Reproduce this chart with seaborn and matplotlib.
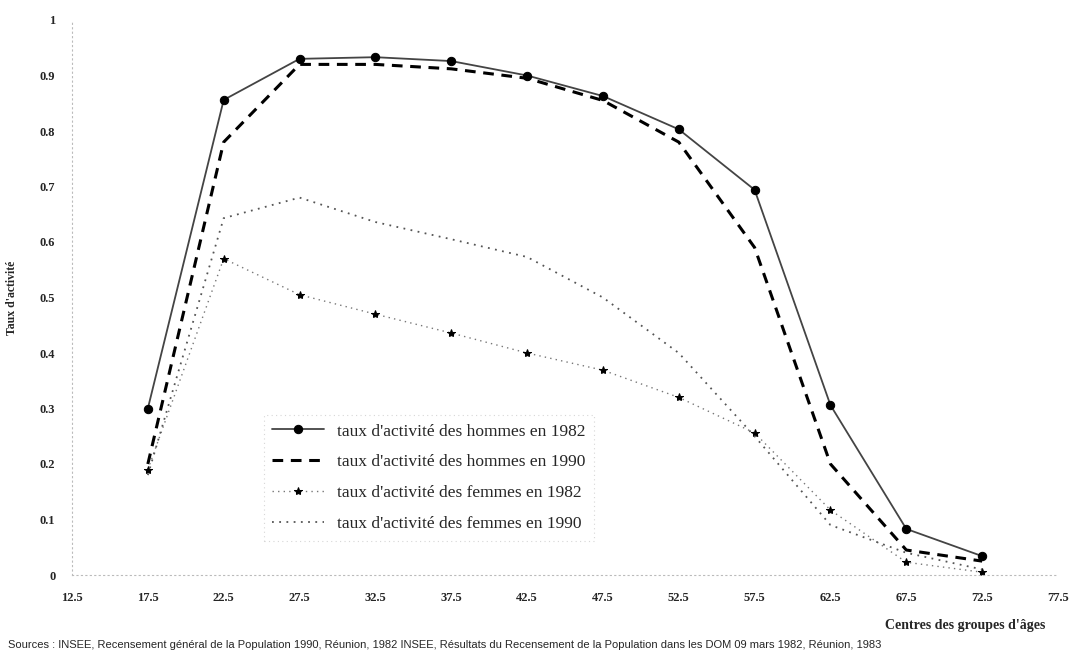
import matplotlib
matplotlib.use("Agg")
import matplotlib.pyplot as plt
import seaborn as sns
import numpy as np
import pandas as pd

ages = [17.5, 22.5, 27.5, 32.5, 37.5, 42.5, 47.5, 52.5, 57.5, 62.5, 67.5, 72.5]
hommes_1982 = [0.30, 0.856, 0.93, 0.933, 0.926, 0.90, 0.863, 0.803, 0.694, 0.306, 0.083, 0.034]
hommes_1990 = [0.20, 0.78, 0.92, 0.92, 0.912, 0.895, 0.855, 0.78, 0.59, 0.20, 0.045, 0.025]
femmes_1982 = [0.19, 0.57, 0.505, 0.47, 0.436, 0.40, 0.369, 0.32, 0.256, 0.117, 0.023, 0.005]
femmes_1990 = [0.18, 0.643, 0.68, 0.636, 0.605, 0.573, 0.50, 0.40, 0.25, 0.09, 0.04, 0.01]

labels = ["taux d'activité des hommes en 1982",
          "taux d'activité des hommes en 1990",
          "taux d'activité des femmes en 1982",
          "taux d'activité des femmes en 1990"]
xticks = [12.5, 17.5, 22.5, 27.5, 32.5, 37.5, 42.5, 47.5, 52.5, 57.5, 62.5, 67.5, 72.5, 77.5]
yticks = [0, 0.1, 0.2, 0.3, 0.4, 0.5, 0.6, 0.7, 0.8, 0.9, 1]

sns.set_theme(style="white")
plt.rcParams['font.family'] = ['Liberation Serif', 'DejaVu Serif']

fig = plt.figure(figsize=(10.69, 6.55), dpi=100)
ax = fig.add_axes([72/1069, 1-575/655, (1058-72)/1069, (575-20)/655])

series = [hommes_1982, hommes_1990, femmes_1982, femmes_1990]
styles = [
    dict(color="#444444", lw=1.3, ls="-", marker="o", ms=6, mfc="black", mec="black"),
    dict(color="black", lw=2.2, ls=(0, (3.5, 2.5)), marker=None),
    dict(color="#777777", lw=1.0, ls=(0, (1, 3)), marker="*", ms=6, mfc="black", mec="black"),
    dict(color="#555555", lw=1.3, ls=(0, (1, 3)), marker=None),
]
for vals, lab, st in zip(series, labels, styles):
    sns.lineplot(x=ages, y=vals, ax=ax, label=lab, **st)

ax.set_xlim(12.5, 77.5)
ax.set_ylim(0, 1)
ax.set_xticks(xticks)
ax.set_xticklabels([f"{t:g}" for t in xticks], fontsize=9, fontweight="bold")
ax.set_yticks(yticks)
ax.set_yticklabels([f"{t:g}" for t in yticks], fontsize=9, fontweight="bold")
ax.tick_params(axis="both", length=0, pad=12)
for s in ["top", "right"]:
    ax.spines[s].set_visible(False)
for s in ["left", "bottom"]:
    ax.spines[s].set_color("#bbbbbb")
    ax.spines[s].set_linestyle((0, (1, 3)))
    ax.spines[s].set_linewidth(0.8)

ax.set_ylabel("Taux d'activité", fontsize=8.5, fontweight="bold")
ax.yaxis.set_label_coords(-0.055, 0.5)
ax.set_xlabel("")
fig.text(1045/1069, 1-625/655, "Centres des groupes d'âges", fontsize=10, fontweight="bold",
         ha="right", va="center")
fig.text(8/1069, 1-645/655,
         "Sources : INSEE, Recensement général de la Population 1990, Réunion, 1982 INSEE, "
         "Résultats du Recensement de la Population dans les DOM 09 mars 1982, Réunion, 1983",
         fontsize=8, ha="left", va="center", family=["Liberation Sans", "DejaVu Sans"])

leg = ax.legend(loc="upper left", bbox_to_anchor=((255-72)/986, 1-(406-20)/555),
                fontsize=12.5, frameon=True, fancybox=False, handlelength=3.0,
                labelspacing=0.85, borderpad=0.5, handletextpad=0.7)
leg.get_frame().set_edgecolor("#cccccc")
leg.get_frame().set_linestyle((0, (1, 3)))
leg.get_frame().set_linewidth(0.8)

fig.savefig("out.png", dpi=100)
